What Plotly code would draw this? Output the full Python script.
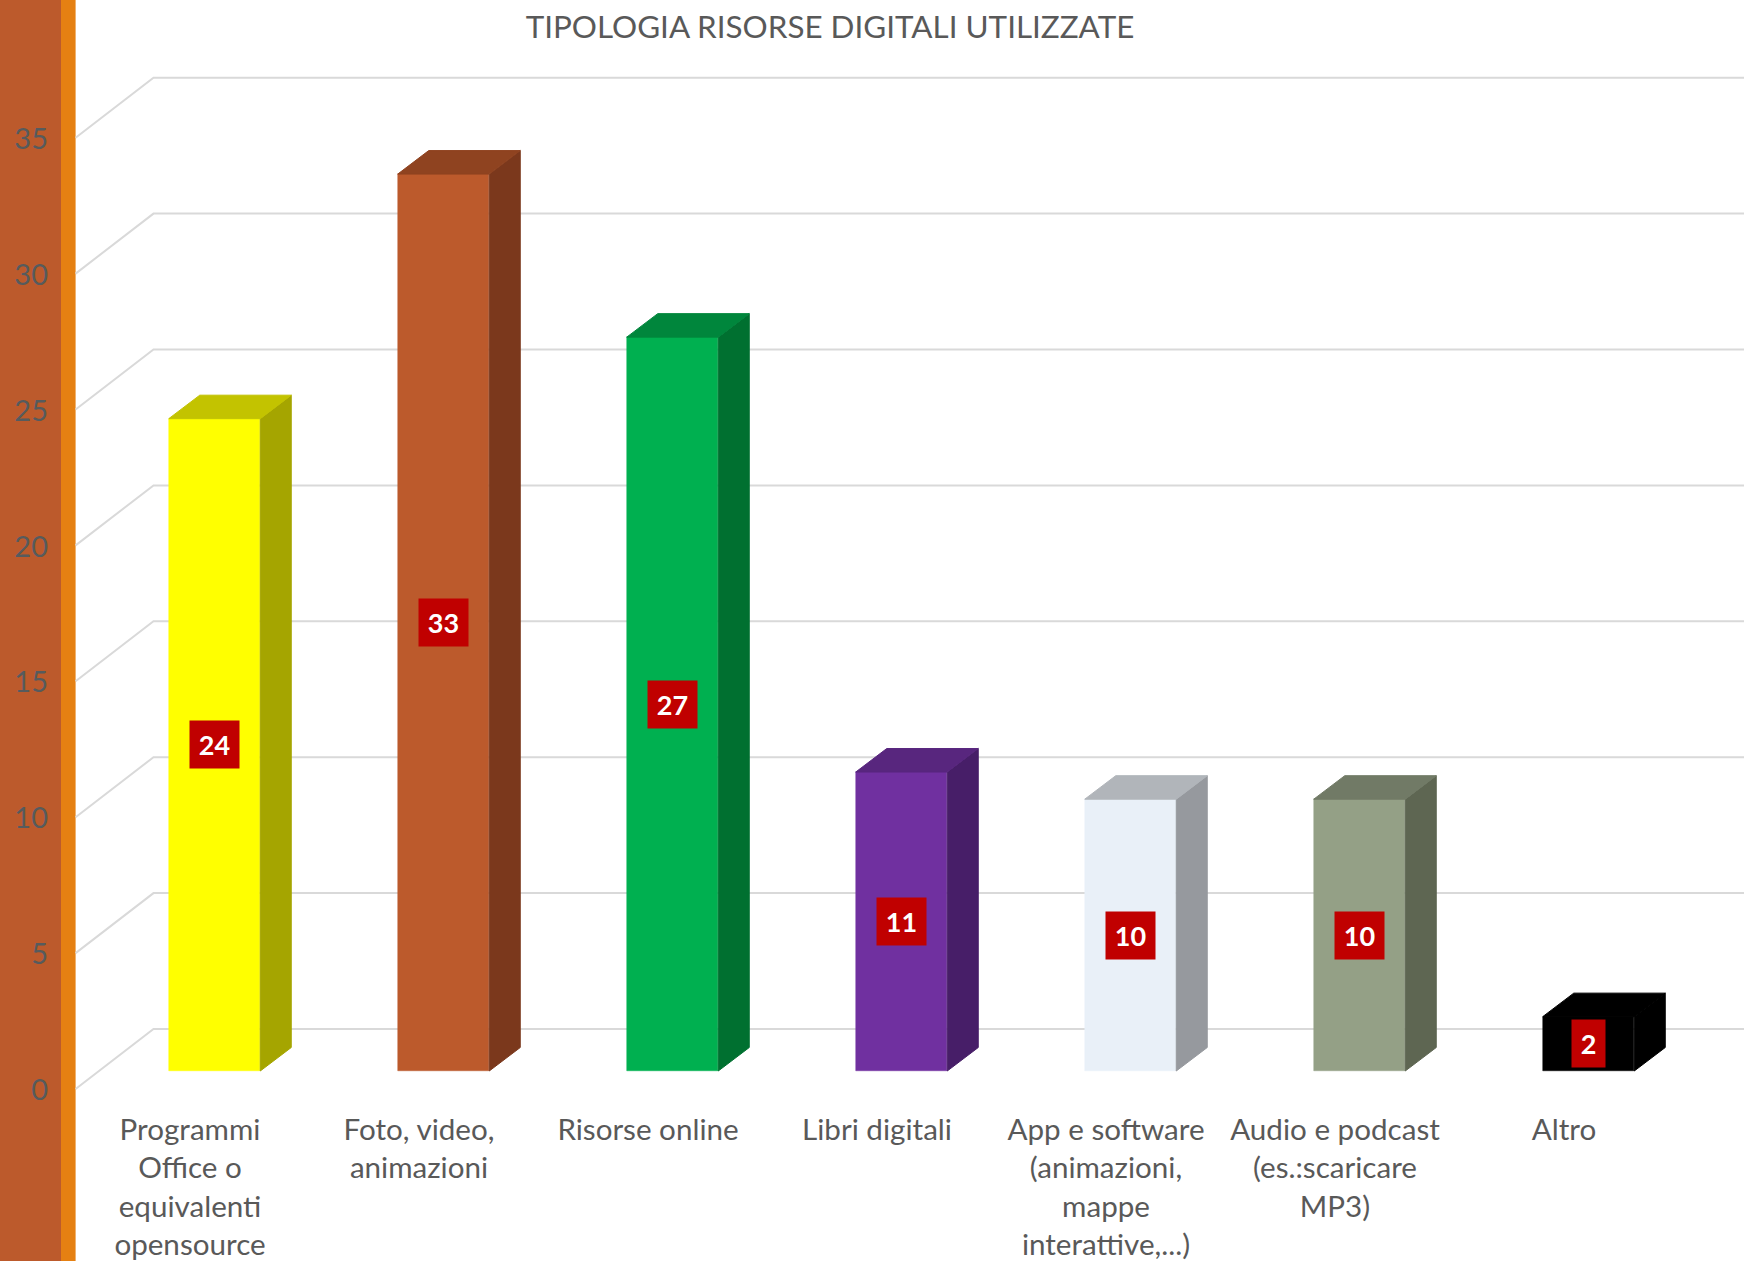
import plotly.graph_objects as go

# ---- data ----
categories = [
    "Programmi<br>Office o<br>equivalenti<br>opensource",
    "Foto, video,<br>animazioni",
    "Risorse online",
    "Libri digitali",
    "App e software<br>(animazioni,<br>mappe<br>interattive,...)",
    "Audio e podcast<br>(es.:scaricare<br>MP3)",
    "Altro",
]
values = [24, 33, 27, 11, 10, 10, 2]
y_ticks = [0, 5, 10, 15, 20, 25, 30, 35]
title_text = "TIPOLOGIA RISORSE DIGITALI UTILIZZATE"

front_colors = ["#FFFF00", "#BC5A2C", "#00B050", "#7030A0", "#E9F0F8", "#94A086", "#000000"]
top_colors = ["#C3C300", "#8F4320", "#00863C", "#58267E", "#B1B5BA", "#717A66", "#000000"]
side_colors = ["#A5A500", "#7B381C", "#007030", "#471E68", "#96999E", "#5E6652", "#000000"]

# ---- geometry (canvas pixels, converted to axis units) ----
W, H = 1744, 1261
PLOT_BOTTOM = 1100
PX_PER_UNIT = 27.18
PX_PER_CAT = 229.0
FIRST_CAT_PX = 190.0
AXIS_ZERO_PX = 1090.0
BAR_ZERO_PX = 1071.0
BAR_SHIFT = 24.5 / PX_PER_CAT
LABEL_SHIFT = 24.0 / PX_PER_CAT
BAR_WIDTH = 91.5 / PX_PER_CAT
DEPTH_X = 31.0 / PX_PER_CAT
DEPTH_Y = 23.5 / PX_PER_UNIT
WALL_DY = 60.0 / PX_PER_UNIT
GRID_OFFSET = 1.0 / PX_PER_UNIT
GRID_LEFT = (75.6 - FIRST_CAT_PX) / PX_PER_CAT
GRID_CORNER = (153.5 - FIRST_CAT_PX) / PX_PER_CAT
X_MIN = -FIRST_CAT_PX / PX_PER_CAT
X_MAX = (W - FIRST_CAT_PX) / PX_PER_CAT

FONT = "Lato, Carlito, Calibri, sans-serif"
TEXT = "#595959"

fig = go.Figure()

# receding gridlines on walls
for t in y_ticks:
    g = t + GRID_OFFSET
    fig.add_trace(go.Scatter(
        x=[GRID_LEFT, GRID_CORNER, X_MAX],
        y=[g, g + WALL_DY, g + WALL_DY],
        mode="lines", line=dict(color="#D9D9D9", width=2),
        hoverinfo="skip", showlegend=False, xaxis="x", yaxis="y",
    ))

# side and top faces
for i, v in enumerate(values):
    xl = i + BAR_SHIFT - BAR_WIDTH / 2
    xr = i + BAR_SHIFT + BAR_WIDTH / 2
    fig.add_trace(go.Scatter(
        x=[xr, xr + DEPTH_X, xr + DEPTH_X, xr, xr],
        y=[0, DEPTH_Y, v + DEPTH_Y, v, 0],
        mode="lines", fill="toself", fillcolor=side_colors[i],
        line=dict(width=1, color=side_colors[i]), hoverinfo="skip", showlegend=False,
        xaxis="x", yaxis="y2",
    ))
    fig.add_trace(go.Scatter(
        x=[xl, xr, xr + DEPTH_X, xl + DEPTH_X, xl],
        y=[v, v, v + DEPTH_Y, v + DEPTH_Y, v],
        mode="lines", fill="toself", fillcolor=top_colors[i],
        line=dict(width=1, color=top_colors[i]), hoverinfo="skip", showlegend=False,
        xaxis="x", yaxis="y2",
    ))

# front faces
fig.add_trace(go.Bar(
    x=[i + BAR_SHIFT for i in range(len(values))],
    y=values, width=BAR_WIDTH,
    marker=dict(color=front_colors, line=dict(width=0.5, color=front_colors)),
    showlegend=False, xaxis="x", yaxis="y2",
    customdata=[c.replace("<br>", " ") for c in categories],
    hovertemplate="%{customdata}: %{y}<extra></extra>",
))

# data labels
annotations = []
for i, v in enumerate(values):
    annotations.append(dict(
        x=i + LABEL_SHIFT, y=v / 2, xref="x", yref="y2",
        text=f"<b>{v}</b>", showarrow=False,
        font=dict(family=FONT, size=27, color="white"),
        bgcolor="#C00000", width=17 + 16 * len(str(v)), height=47, borderpad=0,
        align="center", valign="middle",
    ))

fig.update_layout(
    width=W, height=H, autosize=False,
    margin=dict(l=0, r=0, t=0, b=H - PLOT_BOTTOM, pad=0),
    plot_bgcolor="white", paper_bgcolor="white",
    bargap=0, showlegend=False,
    title=dict(
        text=title_text, x=830 / W, xanchor="center", xref="paper",
        y=1 - 27.5 / H, yanchor="middle", yref="container",
        font=dict(family=FONT, size=31.4, color=TEXT),
    ),
    xaxis=dict(
        range=[X_MIN, X_MAX], tickmode="array",
        tickvals=list(range(len(categories))), ticktext=categories,
        tickangle=0, showgrid=False, zeroline=False, showline=False,
        ticks="", ticklabelstandoff=9,
        tickfont=dict(family=FONT, size=29.6, color=TEXT),
        automargin=False,
    ),
    yaxis=dict(
        range=[(AXIS_ZERO_PX - PLOT_BOTTOM) / PX_PER_UNIT, AXIS_ZERO_PX / PX_PER_UNIT],
        tickmode="array", tickvals=y_ticks,
        showgrid=False, zeroline=False, showline=False, ticks="",
        anchor="free", position=48 / W, side="left",
        tickfont=dict(family=FONT, size=29, color="#565B5D"),
        automargin=False,
    ),
    yaxis2=dict(
        range=[(BAR_ZERO_PX - PLOT_BOTTOM) / PX_PER_UNIT, BAR_ZERO_PX / PX_PER_UNIT],
        overlaying="y", visible=False, anchor="x",
    ),
    shapes=[
        dict(type="rect", xref="paper", yref="paper", layer="below",
             x0=0, x1=61 / W, y0=(PLOT_BOTTOM - H) / PLOT_BOTTOM, y1=1,
             fillcolor="#BC5A2C", line=dict(width=0)),
        dict(type="rect", xref="paper", yref="paper", layer="below",
             x0=61 / W, x1=75.6 / W, y0=(PLOT_BOTTOM - H) / PLOT_BOTTOM, y1=1,
             fillcolor="#E58012", line=dict(width=0)),
    ],
    annotations=annotations,
)

fig.write_html(
    "out.html",
    config={"displayModeBar": False},
    post_script="document.body.style.margin='0';document.body.style.overflow='hidden';",
)
